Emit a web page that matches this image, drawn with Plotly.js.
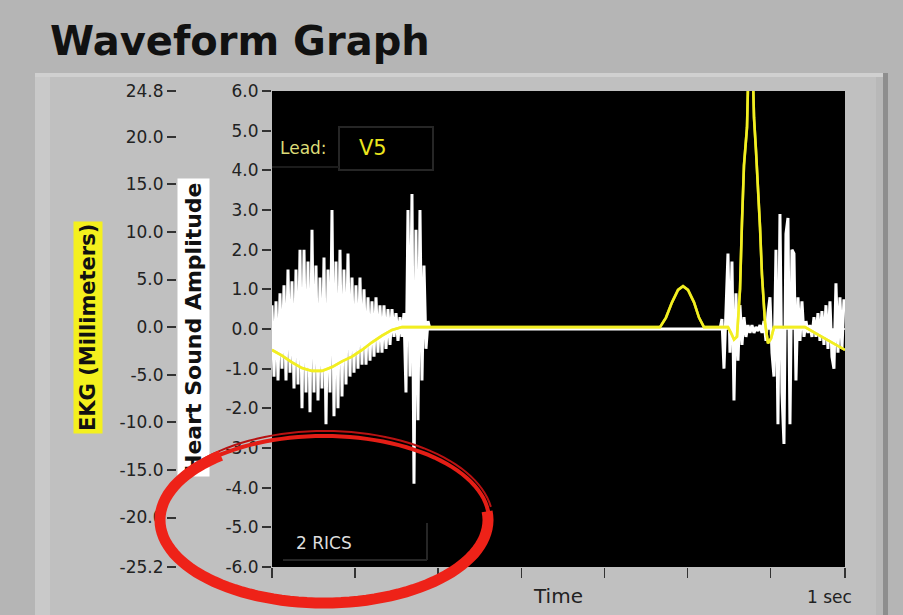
<!DOCTYPE html>
<html>
<head>
<meta charset="utf-8">
<script src="https://cdn.plot.ly/plotly-3.0.1.min.js"></script>
<style>
html,body{margin:0;padding:0;background:#b5b5b5;}
#chart{width:903px;height:615px;}
</style>
</head>
<body>
<div id="chart"></div>
<script>
// ---------------- DATA ----------------
// Heart sound amplitude samples (white trace), sampled waveform segments
const hsSampleDt = 0.00349;      // seconds between samples
const hsS1Start = 0.0;           // start time of first burst (s)
const hsS1Values = [0.6,-1.2,0.7,-1.3,0.9,-1.0,1.1,-1.3,1.5,-1.1,1.2,-1.5,1.5,-1.4,2.0,-2.0,2.0,-1.6,1.7,-2.1,
  2.5,-1.6,1.6,-1.8,1.3,-1.5,1.8,-2.4,1.5,-1.6,3.0,-2.2,1.7,-2.0,2.0,-1.7,1.5,-1.4,1.9,-1.2,
  1.3,-1.1,1.1,-1.0,1.3,-0.9,1.0,-0.9,0.8,-0.8,0.7,-0.7,0.8,-0.6,0.6,-0.6,0.6,-0.5,0.5,-0.4,
  0.5,-0.2,0.4,-0.3,0.3,-0.2,0.4,-1.6,3.0,-1.2,3.4,-3.9,2.5,-2.3,3.0,-1.3,1.6,-0.5,0.2,0];
const hsS2Start = 0.7818;        // start time of second burst (s)
const hsS2Values = [0,0.25,-1.0,0.3,1.9,-0.6,1.7,-1.8,0.9,-0.8,0.6,-0.4,0.3,-0.2,0.1,-0.1,0.1,-0.1,0.05,-0.05,
  0.1,-0.1,0.2,-0.3,0.4,0.8,-0.6,-1.2,2.0,-2.4,2.9,-1.6,-2.9,2.4,2.8,-2.4,2.0,1.9,-1.3,0.8,
  -0.3,0.7,-0.2,0.2,-0.1,0.1,-0.2,0.3,-0.2,0.4,-0.3,0.45,-0.4,0.6,-0.5,0.7,-0.7,-1.0,1.15,-0.6,
  0.8,-0.5,0.75];

// EKG (yellow trace), millimeters
const ekgTime = [0,0.0175,0.0349,0.0524,0.0698,0.0873,0.1047,0.1222,0.1396,0.1571,0.1745,0.1920,0.2094,0.2269,
  0.6771,0.6876,0.6981,0.7086,0.7173,0.7260,0.7365,0.7452,0.7539,
  0.7958,0.8010,0.8063,0.8115,0.8168,0.8202,0.8237,0.8290,0.8325,0.8377,0.8412,0.8447,0.8482,0.8517,0.8551,0.8604,0.8656,0.8709,0.8761,
  0.9302,0.9476,0.9651,0.9825,1.0];
const ekgMm = [-2.4,-3.0,-3.7,-4.3,-4.6,-4.6,-4.2,-3.6,-3.1,-2.4,-1.6,-0.9,-0.3,0,
  0,1.0,2.6,3.9,4.3,3.9,2.6,1.0,0,
  0,-0.6,-1.3,-1.0,4,11,17,21,30,30,22,18.5,15,10.5,5.5,0.5,-1.7,-1.2,0,
  0,-0.6,-1.2,-1.8,-2.4];

// Axis ticks
const hsTickVals = [6,5,4,3,2,1,0,-1,-2,-3,-4,-5,-6];
const hsTickText = ['6.0','5.0','4.0','3.0','2.0','1.0','0.0','-1.0','-2.0','-3.0','-4.0','-5.0','-6.0'];
const ekgTickVals = [24.8,20,15,10,5,0,-5,-10,-15,-20,-25.2];
const ekgTickText = ['24.8','20.0','15.0','10.0','5.0','0.0','-5.0','-10.0','-15.0','-20.0','-25.2'];
const timeTickVals = [0,0.145,0.29,0.435,0.58,0.725,0.87,1.0];

// ---------------- BUILD ----------------
function sampleTimes(t0, n){ const t=[]; for(let i=0;i<n;i++) t.push(t0+i*hsSampleDt); return t; }
const hsX = sampleTimes(hsS1Start, hsS1Values.length).concat(sampleTimes(hsS2Start, hsS2Values.length));
const hsY = hsS1Values.concat(hsS2Values);

const W=903, H=615;
const ML=176, MR=58, MT=91, MB=48;
const PL=ML, PR=W-MR, PT=MT, PB=H-MB;
const px = v => (v-PL)/(PR-PL);
const py = v => (PB-v)/(PB-PT);
const FONT = 'DejaVu Sans';

function arcPath(cx, cy, rx, ry, a0, a1){
  let s='';
  for(let a=a0; a<=a1+0.001; a+=3){
    const r=a*Math.PI/180;
    s += (s?'L':'M') + px(cx+rx*Math.cos(r)).toFixed(4) + ',' + py(cy+ry*Math.sin(r)).toFixed(4);
  }
  return s;
}
function rect(x0,y0,x1,y1,fill,layer){
  return {type:'rect', xref:'paper', yref:'paper', x0:px(x0), x1:px(x1), y0:py(y1), y1:py(y0),
    fillcolor:fill, line:{width:0}, layer:layer||'below'};
}

const traces = [
  {x:[0,1], y:[0,0], type:'scatter', mode:'lines', line:{color:'#ffffff', width:1.5}, yaxis:'y', hoverinfo:'skip'},
  {x:ekgTime, y:ekgMm, type:'scatter', mode:'lines', line:{color:'#f2ee22', width:2.6}, yaxis:'y2', hoverinfo:'skip'},
  {x:hsX, y:hsY, type:'scatter', mode:'lines', fill:'tozeroy', fillcolor:'#ffffff', line:{color:'#ffffff', width:3}, yaxis:'y', hoverinfo:'skip'},
  {x:ekgTime, y:ekgMm, type:'scatter', mode:'lines', line:{color:'#f2ee22', width:2.6}, yaxis:'y2', opacity:0.75, hoverinfo:'skip'}
];

const shapes = [
  rect(35,73,888,630,'#c0c0c0'),
  rect(35,73,50,630,'#c9c9c9'),
  rect(35,73,888,77,'#d0d0d0'),
  rect(876,77,883,630,'#b8b8b8'),
  rect(883,73,888,630,'#8e8e8e'),
  rect(272,PT,PR,PB,'#000000'),
  // indicator boxes inside the plot
  {type:'rect', xref:'paper', yref:'paper', x0:px(339), x1:px(433), y0:py(170), y1:py(127), line:{color:'#262626', width:2}, layer:'above'},
  {type:'line', xref:'paper', yref:'paper', x0:px(272), x1:px(339), y0:py(167), y1:py(167), line:{color:'#1c1c1c', width:2}, layer:'above'},
  {type:'line', xref:'paper', yref:'paper', x0:px(283), x1:px(427), y0:py(560), y1:py(560), line:{color:'#262626', width:2}, layer:'above'},
  {type:'line', xref:'paper', yref:'paper', x0:px(427), x1:px(427), y0:py(560), y1:py(523), line:{color:'#262626', width:2}, layer:'above'},
  // red hand-drawn ellipse
  {type:'path', xref:'paper', yref:'paper', path:arcPath(325,521,168,90,195,352), line:{color:'#b81212', width:2}, layer:'above'},
  {type:'path', xref:'paper', yref:'paper', path:arcPath(324,520,165,84,0,360), line:{color:'#e41e16', width:4}, layer:'above'},
  {type:'path', xref:'paper', yref:'paper', path:arcPath(324,520,164,83,-6,232), line:{color:'#ee2218', width:11}, layer:'above'}
];

const annotations = [
  {text:'Lead:', x:px(278), y:py(148), xref:'paper', yref:'paper', xanchor:'left', yanchor:'middle', showarrow:false,
    font:{family:FONT, size:17, color:'#dcdc78'}},
  {text:'V5', x:px(357), y:py(148), xref:'paper', yref:'paper', xanchor:'left', yanchor:'middle', showarrow:false,
    font:{family:FONT, size:21, color:'#ebe61e'}},
  {text:'2 RICS', x:px(294), y:py(543), xref:'paper', yref:'paper', xanchor:'left', yanchor:'middle', showarrow:false,
    font:{family:FONT, size:17, color:'#dddddd'}},
  {text:'1 sec', x:px(854), y:py(597), xref:'paper', yref:'paper', xanchor:'right', yanchor:'middle', showarrow:false,
    font:{family:FONT, size:17, color:'#222222'}},
  {text:'<b>EKG (Millimeters)</b>', x:px(88), y:py(328), xref:'paper', yref:'paper', xanchor:'center', yanchor:'middle',
    textangle:-90, showarrow:false, bgcolor:'#f4f01e', borderpad:2, font:{family:FONT, size:21, color:'#111'}},
  {text:'<b>Heart Sound Amplitude</b>', x:px(193), y:py(328), xref:'paper', yref:'paper', xanchor:'center', yanchor:'middle',
    textangle:-90, showarrow:false, bgcolor:'#ffffff', borderpad:3, font:{family:FONT, size:22, color:'#111'}}
];

const layout = {
  width:W, height:H,
  margin:{l:ML, r:MR, t:MT, b:MB, pad:0},
  paper_bgcolor:'#b5b5b5',
  plot_bgcolor:'#000000',
  showlegend:false,
  font:{family:FONT, color:'#222'},
  title:{text:'Waveform Graph', x:50/W, xref:'container', xanchor:'left', y:1-41/H, yref:'container', yanchor:'middle',
    font:{family:FONT, size:40, color:'#111', weight:700}},
  xaxis:{domain:[(272-ML)/(PR-PL),1], range:[0,1], showgrid:false, zeroline:false, showline:false,
    tickmode:'array', tickvals:timeTickVals, ticktext:timeTickVals.map(()=>''), ticks:'outside', ticklen:10, tickwidth:1.5, tickcolor:'#333',
    title:{text:'Time', font:{family:FONT, size:20, color:'#222'}, standoff:9}, fixedrange:true},
  yaxis:{range:[-6,6], anchor:'x', side:'left', showgrid:false, zeroline:false, showline:false,
    tickmode:'array', tickvals:hsTickVals, ticktext:hsTickText, ticks:'outside', ticklen:9, tickwidth:2, tickcolor:'#333',
    tickfont:{family:FONT, size:17, color:'#222'}, fixedrange:true},
  yaxis2:{range:[-25.2,24.8], overlaying:'y', anchor:'free', position:0, side:'left', showgrid:false, zeroline:false, showline:false,
    tickmode:'array', tickvals:ekgTickVals, ticktext:ekgTickText, ticks:'outside', ticklen:9, tickwidth:2, tickcolor:'#333',
    tickfont:{family:FONT, size:17, color:'#222'}, fixedrange:true},
  shapes:shapes,
  annotations:annotations
};

Plotly.newPlot('chart', traces, layout, {displayModeBar:false, staticPlot:true}).then(function(gd){
  // place the hand-drawn annotation layer above the text labels, as in the original screenshot
  const above = gd.querySelector('.layer-above');
  const svgs = gd.querySelectorAll('svg.main-svg');
  if(above && svgs.length>1){ svgs[1].appendChild(above); }
});
</script>
</body>
</html>
